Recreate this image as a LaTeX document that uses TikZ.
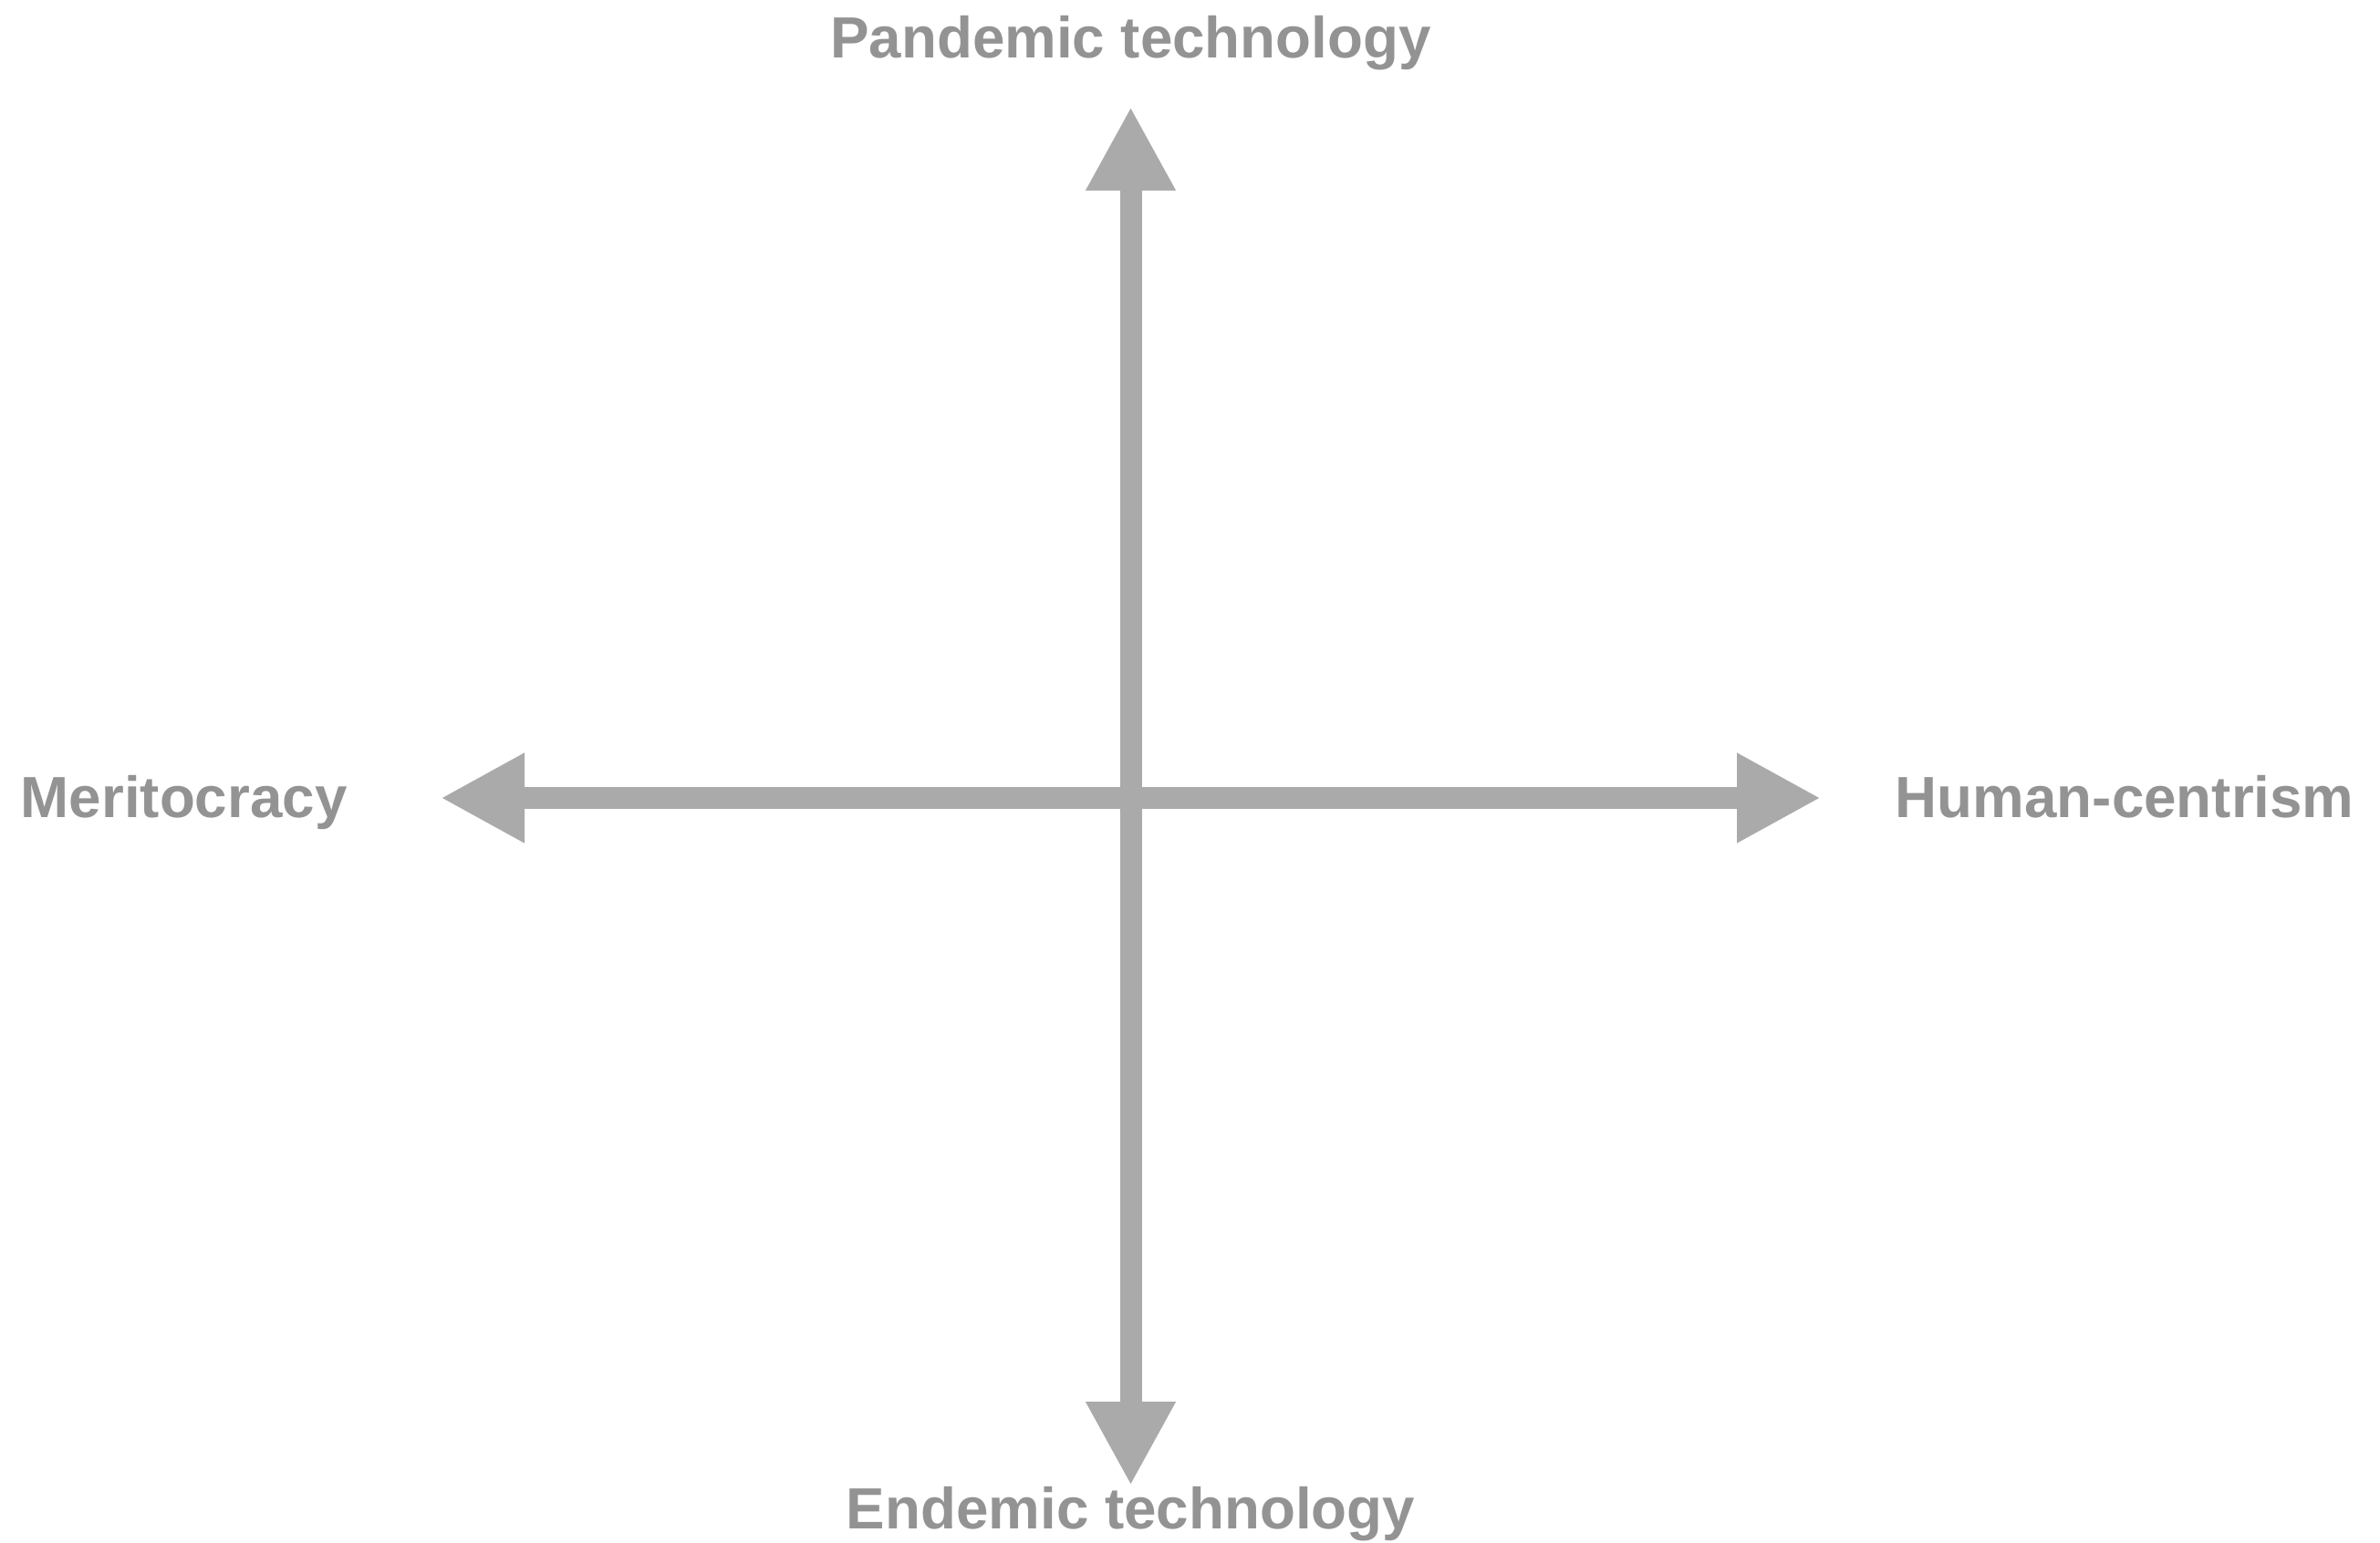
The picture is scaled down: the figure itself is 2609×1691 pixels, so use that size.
\documentclass[tikz,border=0pt]{standalone}
\usepackage{fontspec}
\setmainfont{Liberation Sans}
\usetikzlibrary{arrows.meta}
\definecolor{axisgray}{RGB}{170,170,170}
\definecolor{labelgray}{RGB}{147,147,147}
\begin{document}
\begin{tikzpicture}[x=0.25pt,y=-0.25pt,
  axisline/.style={draw=axisgray,line width=6pt,
    {Triangle[length=23pt,width=23pt,fill=axisgray]}-{Triangle[length=23pt,width=23pt,fill=axisgray]}},
  axislabel/.style={text=labelgray,inner sep=0pt,
    font=\fontsize{15.93pt}{19pt}\selectfont\bfseries}]
\useasboundingbox (0,0) rectangle (2609,1691);
\coordinate (O) at (1239.5,875);
\coordinate (lefttip) at (483,875);
\coordinate (righttip) at (1996,875);
\coordinate (toptip) at (1239.5,117);
\coordinate (bottomtip) at (1239.5,1629);
\draw[axisline] (lefttip) -- (righttip);
\draw[axisline] (toptip) -- (bottomtip);
\node[axislabel,anchor=base] (pandemic) at (1239.5,63.3) {Pandemic technology};
\node[axislabel,anchor=base] (endemic) at (1239.5,1676) {Endemic technology};
\node[axislabel,anchor=base west] (merit) at (22,896) {Meritocracy};
\node[axislabel,anchor=base west] (human) at (2077,896) {Human-centrism};
\end{tikzpicture}
\end{document}
